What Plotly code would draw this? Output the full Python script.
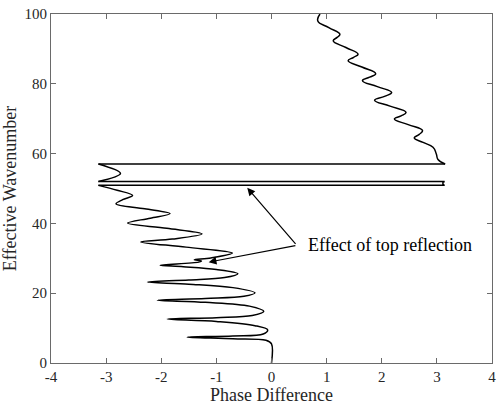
import plotly.graph_objects as go

# Segment A: lower oscillating branch (phase vs effective wavenumber)
phase_a = [0, 0, -0.1, -0.7, -1.53, -0.7, -0.15, -0.07, -0.3, -1.0, -1.89, -1.0, -0.35, -0.14,
           -0.4, -1.2, -2.07, -1.2, -0.5, -0.30, -0.7, -1.5, -2.25, -1.5, -0.85, -0.61,
           -1.0, -1.6, -2.02, -1.32, -1.27, -1.40, -1.1, -0.71, -1.55, -2.37, -1.8, -1.26,
           -1.9, -2.61, -2.2, -1.84, -2.3, -2.82, -2.7, -2.52, -2.8, -3.14]
wave_a = [0, 5.5, 6.5, 6.95, 7.4, 7.75, 8.3, 9.5, 10.7, 11.9, 12.6, 13.0, 13.6, 14.8,
          16.3, 17.4, 18.0, 18.5, 19.1, 20.1, 21.6, 22.6, 23.2, 23.8, 24.5, 25.6,
          26.8, 27.6, 28.0, 28.9, 29.2, 29.6, 30.1, 31.5, 33.2, 34.7, 35.5, 37.0,
          38.6, 40.1, 41.5, 42.8, 44.2, 45.6, 46.8, 48.0, 49.5, 50.9]

# Segment B: small excursion between the wraps
phase_b = [-3.14, -2.74, -3.14]
wave_b = [52.0, 54.3, 57.0]

# Segment C: upper branch after wrapping to +pi
phase_c = [3.15, 3.02, 2.99, 2.93, 2.75, 2.59, 2.68, 2.74, 2.48, 2.23, 2.35, 2.44,
           2.15, 1.87, 2.05, 2.18, 1.92, 1.65, 1.78, 1.89, 1.64, 1.39, 1.49, 1.57,
           1.35, 1.12, 1.19, 1.24, 1.04, 0.84, 0.88]
wave_c = [57.0, 58.3, 59.9, 61.8, 63.2, 64.5, 65.5, 66.6, 68.3, 69.9, 70.8, 71.8,
          73.6, 75.3, 76.4, 77.5, 79.2, 80.9, 81.9, 82.9, 84.8, 86.6, 87.6, 88.5,
          90.4, 92.3, 93.3, 94.2, 96.1, 98.0, 100.0]

# Phase wrap jumps (straight lines)
phase_w = [-3.14, 3.14, 3.11, 3.11, 3.14, -3.14, None, -3.14, 3.15]
wave_w = [50.9, 50.9, 51.2, 51.8, 52.0, 52.0, None, 57.0, 57.0]

x_ticks = [-4, -3, -2, -1, 0, 1, 2, 3, 4]
y_ticks = [0, 20, 40, 60, 80, 100]

FONT = "Liberation Serif"
line = dict(color="black", width=1.5)

fig = go.Figure()
for px_, wy, sm in [(phase_a, wave_a, 1.0), (phase_b, wave_b, 1.0), (phase_c, wave_c, 1.3)]:
    fig.add_trace(go.Scatter(x=px_, y=wy, mode="lines",
                             line=dict(color="black", width=1.5, shape="spline", smoothing=sm),
                             showlegend=False, hoverinfo="skip"))
fig.add_trace(go.Scatter(x=phase_w, y=wave_w, mode="lines", line=line,
                         showlegend=False, hoverinfo="skip"))

# annotation text and arrows
tail = (0.46, 33.7)
for hx, hy in [(-0.44, 50.2), (-1.14, 28.9)]:
    fig.add_annotation(x=hx, y=hy, ax=tail[0], ay=tail[1], xref="x", yref="y",
                       axref="x", ayref="y", text="", showarrow=True,
                       arrowhead=2, arrowsize=1.3, arrowwidth=1.2, arrowcolor="black")
fig.add_annotation(x=0.63, y=33.8, xref="x", yref="y", text="Effect of top reflection",
                   showarrow=False, xanchor="left", yanchor="middle",
                   font=dict(family=FONT, size=18, color="black"))

axis_common = dict(showline=True, linecolor="#6a6a6a", linewidth=1, mirror="ticks",
                   ticks="inside", ticklen=5, tickcolor="#6a6a6a", showgrid=False,
                   zeroline=False, tickfont=dict(family=FONT, size=15, color="#262626"))
fig.update_xaxes(range=[-4, 4], tickvals=x_ticks, ticktext=[str(v) for v in x_ticks],
                 title=dict(text="Phase Difference", font=dict(family=FONT, size=18, color="#262626"),
                            standoff=4), **axis_common)
fig.update_yaxes(range=[0, 100], tickvals=y_ticks, ticktext=[str(v) for v in y_ticks],
                 title=dict(text="Effective Wavenumber", font=dict(family=FONT, size=18, color="#262626"),
                            standoff=3), **axis_common)
fig.update_layout(width=502, height=410, margin=dict(l=51, r=6, t=13, b=47),
                  paper_bgcolor="white", plot_bgcolor="white")
fig.write_html("out.html")
